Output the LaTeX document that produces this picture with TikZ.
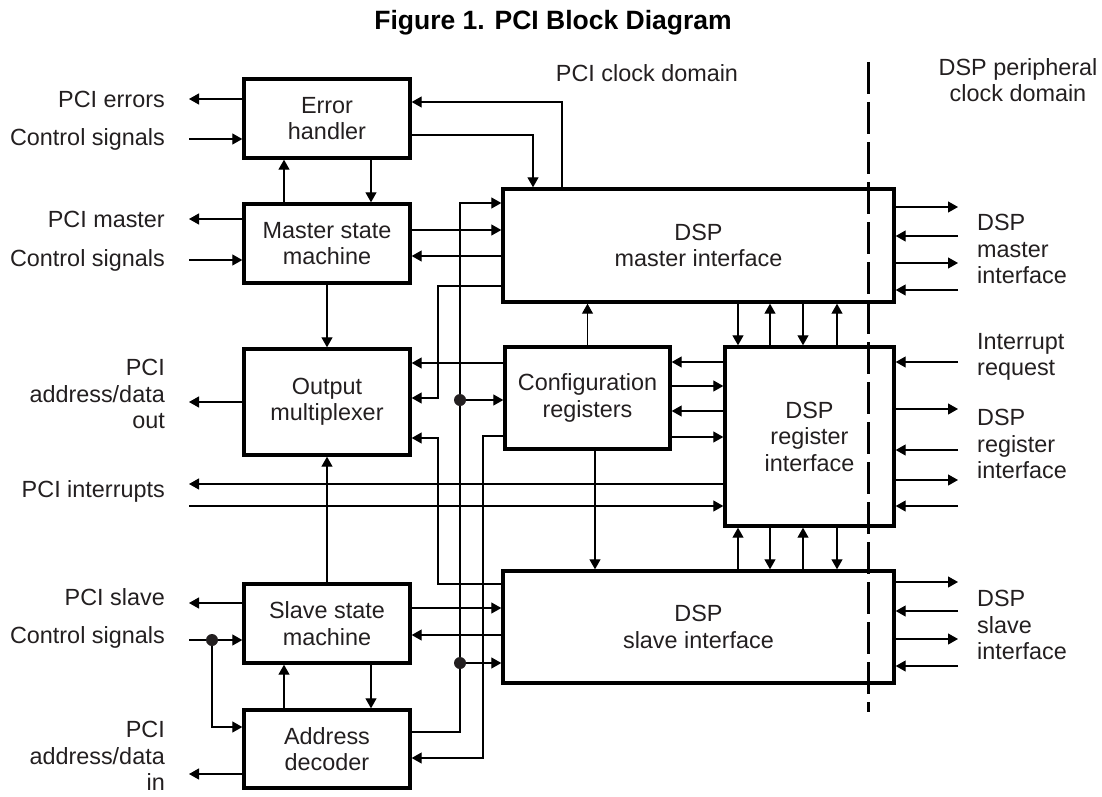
\documentclass[tikz,border=0pt]{standalone}
\usepackage{fontspec}
\setmainfont{Liberation Sans}
\usepackage{tikz}
\usetikzlibrary{arrows.meta,positioning,calc}
\definecolor{ink}{HTML}{231F20}
\newcommand{\diagfont}{\fontsize{23.4}{26.5}\selectfont}
\tikzset{
    blockbox/.style={draw=black,line width=3.4pt,minimum width=166pt,
      inner sep=2pt,align=center,text=ink,font=\diagfont},
    sidelabel/.style={inner sep=0pt,text=ink,font=\diagfont},
    sigline/.style={draw=black,line width=1.2pt},
    sigarrow/.style={sigline,-{Triangle[length=10pt,width=11pt]}},
    junction/.style={circle,fill=ink,inner sep=0pt,minimum size=12pt},
    domainline/.style={draw=black,line width=3pt,dash pattern=on 32pt off 8pt}
}

\begin{document}
\begin{tikzpicture}[x=1pt,y=-1pt]
  \useasboundingbox (0,0) rectangle (1102,797);
  \node[font=\bfseries\fontsize{26.5}{30}\selectfont] (title) at (553,23) {Figure 1. PCI Block Diagram};
  \node[sidelabel] (pcidom) at (647,73) {PCI clock domain};
  \node[sidelabel,align=center] (dspdom) at (1018,80) {DSP peripheral\\clock domain};
  \draw[domainline] (868,62) -- (868,712);

  \node[blockbox,minimum height=79pt] (eh) at (327,118.5) {Error\\handler};
  \node[blockbox,minimum height=79pt] (msm) at (327,243.5) {Master state\\machine};
  \node[blockbox,minimum height=106pt] (omux) at (327,402) {Output\\multiplexer};
  \node[blockbox,minimum height=79pt] (ssm) at (327,623.5) {Slave state\\machine};
  \node[blockbox,minimum height=78pt] (adec) at (327,749) {Address\\decoder};
  \node[blockbox,minimum width=391pt,minimum height=113pt] (dspm) at (698.5,245.5) {DSP\\master interface};
  \node[blockbox,minimum width=165pt,minimum height=102pt] (cfg) at (587.5,398) {Configuration\\registers};
  \node[blockbox,minimum width=169pt,minimum height=179pt] (dspr) at (809.5,436.5) {DSP\\register\\interface};
  \node[blockbox,minimum width=391pt,minimum height=112pt] (dsps) at (698.5,627) {DSP\\slave interface};

  \foreach \n/\y/\t in {lerr/99/PCI errors,lectl/139/Control signals,lmst/219/PCI master,
      lmctl/260/Control signals,lint/491/PCI interrupts,lslv/597/PCI slave,lsctl/637/Control signals}
    \node[sidelabel,anchor=east] (\n) at (165,\y) {\t};
  \node[sidelabel,anchor=east,align=right] (lado) at (165,394) {PCI\\address/data\\out};
  \node[sidelabel,anchor=east,align=right] (ladi) at (165,756) {PCI\\address/data\\in};
  \node[sidelabel,anchor=west,align=left] (rmst) at (977,249) {DSP\\master\\interface};
  \node[sidelabel,anchor=west,align=left] (rirq) at (977,357) {Interrupt\\request};
  \node[sidelabel,anchor=west,align=left] (rreg) at (977,444) {DSP\\register\\interface};
  \node[sidelabel,anchor=west,align=left] (rslv) at (977,625) {DSP\\slave\\interface};

  \foreach \n/\y in {perr/99,pectl/139,pmst/219,pmctl/260,pado/402,pint/484,pinti/506,pslv/603,psctl/640,padi/774}
    \coordinate (\n) at (189,\y);
  \foreach \n/\y in {qm1/207,qm2/236,qm3/263,qm4/290,qr1/362,qr2/409,qr3/450,qr4/480,qr5/506,qs1/582,qs2/611,qs3/639,qs4/666}
    \coordinate (\n) at (958,\y);

  \foreach \b/\c in {eh/perr,msm/pmst,omux/pado,dspr/pint,ssm/pslv,adec/padi}
    \draw[sigarrow] (\b.west |- \c) -- (\c);
  \foreach \b/\c in {eh/pectl,msm/pmctl,dspr/pinti}
    \draw[sigarrow] (\c) -- (\b.west |- \c);
  \foreach \b/\c in {dspm/qm1,dspm/qm3,dspr/qr2,dspr/qr4,dsps/qs1,dsps/qs3}
    \draw[sigarrow] (\b.east |- \c) -- (\c);
  \foreach \b/\c in {dspm/qm2,dspm/qm4,dspr/qr1,dspr/qr3,dspr/qr5,dsps/qs2,dsps/qs4}
    \draw[sigarrow] (\c) -- (\b.east |- \c);

  \draw[sigarrow] (msm.north -| 284,0) -- (eh.south -| 284,0);
  \draw[sigarrow] (eh.south -| 371,0) -- (msm.north -| 371,0);
  \draw[sigarrow] (adec.north -| 284,0) -- (ssm.south -| 284,0);
  \draw[sigarrow] (ssm.south -| 371,0) -- (adec.north -| 371,0);
  \draw[sigarrow] (msm.south) -- (omux.north);
  \draw[sigarrow] (ssm.north) -- (omux.south);
  \draw[sigarrow] (cfg.north) -- (cfg.north |- dspm.south);
  \draw[sigarrow] (cfg.south -| 595,0) -- (dsps.north -| 595,0);
  \foreach \x in {738,803} {
    \draw[sigarrow] (dspm.south -| \x,0) -- (dspr.north -| \x,0);
    \draw[sigarrow] (dsps.north -| \x,0) -- (dspr.south -| \x,0);
  }
  \foreach \x in {770,837} {
    \draw[sigarrow] (dspr.north -| \x,0) -- (dspm.south -| \x,0);
    \draw[sigarrow] (dspr.south -| \x,0) -- (dsps.north -| \x,0);
  }

  \draw[sigarrow] (dspr.west |- 0,362) -- (cfg.east |- 0,362);
  \draw[sigarrow] (cfg.east |- 0,386) -- (dspr.west |- 0,386);
  \draw[sigarrow] (dspr.west |- 0,411) -- (cfg.east |- 0,411);
  \draw[sigarrow] (cfg.east |- 0,437) -- (dspr.west |- 0,437);
  \draw[sigarrow] (msm.east |- 0,230) -- (dspm.west |- 0,230);
  \draw[sigarrow] (dspm.west |- 0,256) -- (msm.east |- 0,256);
  \draw[sigarrow] (ssm.east |- 0,608) -- (dsps.west |- 0,608);
  \draw[sigarrow] (dsps.west |- 0,635) -- (ssm.east |- 0,635);
  \draw[sigarrow] (cfg.west |- 0,363) -- (omux.east |- 0,363);
  \draw[sigarrow] (eh.east |- 0,135) -| (dspm.north -| 533,0);
  \draw[sigarrow] (dspm.north -| 562,0) |- (eh.east |- 0,102);

  % buses between the left column and the DSP blocks
  \draw[sigarrow] (dspm.west |- 0,286) -- (438,286) -- (438,398) -- (omux.east |- 0,398);
  \draw[sigarrow] (dsps.west |- 0,584) -- (438,584) -- (438,438) -- (omux.east |- 0,438);
  \draw[sigarrow] (adec.east |- 0,732) -- (460,732) -- (460,203) -- (dspm.west |- 0,203);
  \draw[sigarrow] (cfg.west |- 0,436) -- (483,436) -- (483,758) -- (adec.east |- 0,758);
  \node[junction] (ja) at (460,400) {};
  \node[junction] (jb) at (460,663) {};
  \node[junction] (jc) at (212,640) {};
  \draw[sigarrow] (ja) -- (cfg.west |- ja);
  \draw[sigarrow] (jb) -- (dsps.west |- jb);
  \draw[sigline] (psctl) -- (jc);
  \draw[sigarrow] (jc) -- (ssm.west |- jc);
  \draw[sigarrow] (jc) |- (adec.west |- 0,727);
\end{tikzpicture}
\end{document}
